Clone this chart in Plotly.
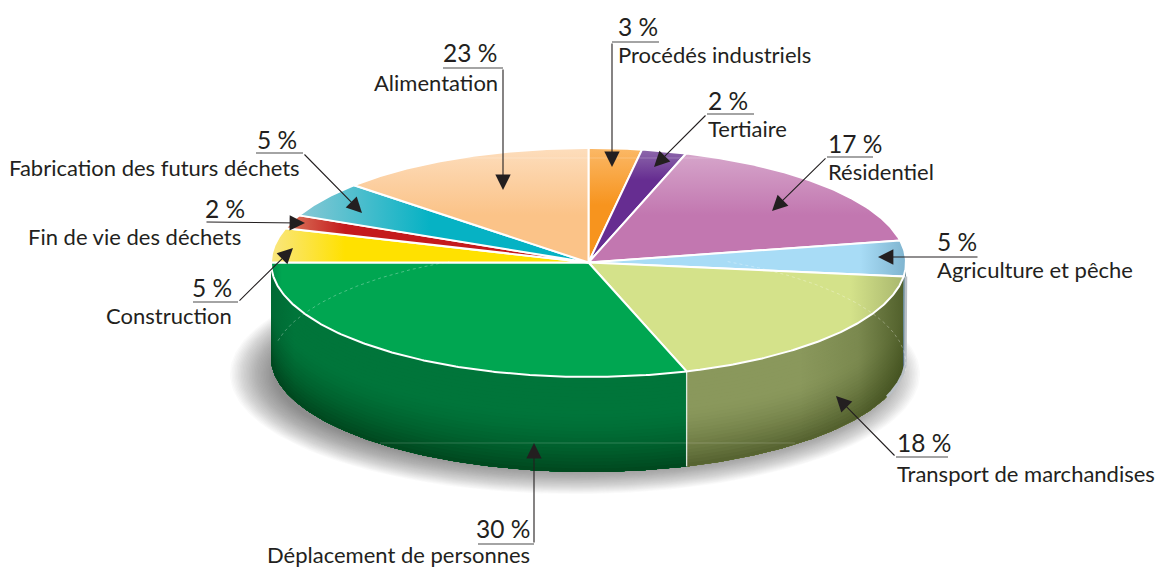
import numpy as np
import plotly.graph_objects as go

# ---- data ----
categories = ["Procédés industriels", "Tertiaire", "Résidentiel", "Agriculture et pêche",
              "Transport de marchandises", "Déplacement de personnes", "Construction",
              "Fin de vie des déchets", "Fabrication des futurs déchets", "Alimentation"]
percent_labels = [3, 2, 17, 5, 18, 30, 5, 2, 5, 23]
# drawn slice widths in degrees (the source picture's slices are not proportional to its labels)
slice_spans = [9.7, 8.2, 61.0, 18.1, 65.0, 108.0, 17.4, 6.9, 18.1, 47.6]

# ---- style ----
CX, CY, RX, RY, DEPTH = 588.5, 262.5, 317.5, 114.5, 95
INK = "#231f20"
FONT = "Lato"
top_style = [
    ("vertical", 148, 205, "#fbb866", "#f7941e"),
    ("vertical", 148, 180, "#8f6bac", "#662d91"),
    ("vertical", 150, 215, "#d7a8cc", "#c277b0"),
    ("horizontal", 860, 906, "#a8dcf6", "#7fb4cf"),
    ("horizontal", 850, 906, "#d4e28a", "#a7b56c"),
    ("horizontal", 271, 282, "#008f4a", "#00a651"),
    ("horizontal", 272, 345, "#f9e67f", "#ffe100"),
    ("horizontal", 290, 345, "#d9735a", "#c41a1c"),
    ("horizontal", 305, 430, "#82c7d4", "#06b2c4"),
    ("vertical", 148, 215, "#fdddbc", "#fbc388"),
]
wall_style = {4: ("#8a985c", "#525f2d"), 5: ("#00753a", "#00451d"), 3: ("#6f8f9c", "#55697a")}

# label layout: text x, anchor, percent y, name y, leader points, arrow tip
callouts = [
    (616, "left", 26, 54, [(659, 42), (612, 42)], (612, 167)),
    (706, "left", 100, 128, [(754, 114), (707, 114)], (654, 167)),
    (826, "left", 143, 171, [(873, 157), (827, 157)], (772, 211)),
    (935, "left", 241, 269, [(979, 257)], (878, 257)),
    (895, "left", 442, 473, [(948, 457), (896, 457)], (836, 396)),
    (532, "right", 528, 554, [(478, 544), (534, 544)], (534, 443)),
    (234, "right", 287, 315, [(193, 302), (238, 302)], (293, 248)),
    (247, "right", 208, 236, [(205, 222)], (305, 223)),
    (299, "right", 139, 167, [(256, 153), (303, 153)], (362, 213)),
    (499, "right", 52, 82, [(443, 68), (503, 68)], (503, 190)),
]
text_right_override = {7: 243, 8: 302, 9: 500}


def rim(a0, a1, n=None, dy=0.0, rx=RX, ry=RY, cx=CX, cy=CY):
    n = n or max(2, int(abs(a1 - a0) * 2))
    t = np.radians(np.linspace(a0, a1, n))
    return cx + rx * np.sin(t), cy - ry * np.cos(t) + dy


def mix(c0, c1, t):
    a = [int(c0[i:i + 2], 16) for i in (1, 3, 5)]
    b = [int(c1[i:i + 2], 16) for i in (1, 3, 5)]
    return "#%02x%02x%02x" % tuple(int(round(x + (y - x) * t)) for x, y in zip(a, b))


fig = go.Figure()


def poly(x, y, **kw):
    kw.setdefault("line", dict(width=0))
    fig.add_trace(go.Scatter(x=list(x), y=list(y), mode="lines", fill="toself",
                             hoverinfo="skip", showlegend=False, **kw))


# soft shadow below the disc
N_SHADOW = 30
for i in range(N_SHADOW):
    f = i / (N_SHADOW - 1)
    sx, sy = rim(0, 360, 240, rx=345 - 45 * f, ry=120 - 28 * f, cx=575, cy=374)
    poly(sx, sy, fillcolor="rgba(70,70,75,0.026)")

# slice angles
edges = np.concatenate([[0.0], np.cumsum(slice_spans)])

# walls (front half only)
for idx, (c_top, c_bot) in wall_style.items():
    a0, a1 = max(edges[idx], 90.0), min(edges[idx + 1], 270.0)
    N_BANDS = 28
    for b in range(N_BANDS):
        t = b / N_BANDS
        x1, y1 = rim(a0, a1, dy=DEPTH * t)
        x2, y2 = rim(a0, a1, dy=DEPTH)
        shade = max(0.0, (t - 0.35) / 0.65) ** 1.5
        poly(np.r_[x1, x2[::-1]], np.r_[y1, y2[::-1]], fillcolor=mix(c_top, c_bot, shade))
    x1, y1 = rim(a0, a1)
    x2, y2 = rim(a0, a1, dy=DEPTH)
    wx, wy = np.r_[x1, x2[::-1]], np.r_[y1, y2[::-1]]
    if idx == 4:
        poly(wx, wy, fillgradient=dict(type="horizontal", start=800, stop=906,
             colorscale=[[0, "rgba(60,75,25,0)"], [0.55, "rgba(60,75,25,0.2)"], [1, "rgba(60,75,25,0.75)"]]))
    if idx == 5:
        poly(wx, wy, fillgradient=dict(type="horizontal", start=271, stop=295,
             colorscale=[[0, "rgba(0,60,30,0.2)"], [1, "rgba(0,60,30,0)"]]))

# wall seam between the two front slices and the soft right rim
sx, sy = rim(edges[5], edges[5], 2)
fig.add_trace(go.Scatter(x=[sx[0], sx[0]], y=[sy[0], sy[0] + DEPTH], mode="lines",
                         line=dict(color="rgba(255,255,255,0.85)", width=1.3),
                         hoverinfo="skip", showlegend=False))
rx_, ry_ = rim(90, edges[5] - 50, dy=DEPTH)
fig.add_trace(go.Scatter(x=[rx_[0], rx_[0]] + list(rx_[:40]), y=[CY + 14, ry_[0]] + list(ry_[:40]),
                         mode="lines", line=dict(color="#b9c0c6", width=2.5),
                         hoverinfo="skip", showlegend=False))

# top faces
for i, (orient, start, stop, c0, c1) in enumerate(top_style):
    ax, ay = rim(edges[i], edges[i + 1])
    poly(np.r_[CX, ax, CX], np.r_[CY, ay, CY],
         line=dict(color="white", width=2),
         fillgradient=dict(type=orient, start=start, stop=stop,
                           colorscale=[[0, c0], [1, c1]]))

# faint construction traces: hidden back rim of the base, and printed hairlines
for a0, a1 in [(282, 334), (26, 95)]:
    hx, hy = rim(a0, a1, 120, dy=102)
    fig.add_trace(go.Scatter(x=hx, y=hy, mode="lines", hoverinfo="skip", showlegend=False,
                             line=dict(color="rgba(255,255,255,0.3)", width=1, dash="dot")))
for (xa, xb, yy, alpha) in [(380, 795, 443, 0.18), (450, 790, 158, 0.22)]:
    fig.add_trace(go.Scatter(x=[xa, xb], y=[yy, yy], mode="lines", hoverinfo="skip", showlegend=False,
                             line=dict(color=f"rgba(255,255,255,{alpha})", width=1)))

# leaders and text
annotations = []
for i, (tx, anchor, py, ny, pts, tip) in enumerate(callouts):
    xs = [p[0] for p in pts]
    ys = [p[1] for p in pts]
    fig.add_trace(go.Scatter(x=xs, y=ys, mode="lines", hoverinfo="skip", showlegend=False,
                             line=dict(color="#4a4a4a", width=1.2)))
    annotations.append(dict(x=tip[0], y=tip[1], ax=pts[-1][0], ay=pts[-1][1], axref="x", ayref="y",
                            xref="x", yref="y", text="", showarrow=True, arrowhead=2, arrowsize=2.8,
                            arrowwidth=1.1, arrowcolor=INK, standoff=0))
    annotations.append(dict(x=tx, y=py, xref="x", yref="y", xanchor=anchor, yanchor="middle",
                            text=f"{percent_labels[i]} %", showarrow=False,
                            font=dict(family=FONT, size=24.5, color=INK)))
    annotations.append(dict(x=text_right_override.get(i, tx), y=ny, xref="x", yref="y", xanchor=anchor,
                            yanchor="middle", text=categories[i], showarrow=False,
                            font=dict(family=FONT, size=22, color=INK)))

# clipped parentheses of the cut-off heading
for px, ch in [(63, "("), (550, ")")]:
    annotations.append(dict(x=px, y=-9, xref="x", yref="y", xanchor="center", yanchor="middle",
                            text=ch, showarrow=False, font=dict(family=FONT, size=24, color="#555")))

fig.update_layout(
    width=1158, height=567, margin=dict(l=0, r=0, t=0, b=0),
    paper_bgcolor="white", plot_bgcolor="white", showlegend=False,
    xaxis=dict(range=[0, 1158], visible=False, fixedrange=True),
    yaxis=dict(range=[567, 0], visible=False, fixedrange=True),
    annotations=annotations,
)
fig.write_html("out.html", config=dict(displayModeBar=False),
               post_script="document.body.style.margin='0';document.body.style.overflow='hidden';")
